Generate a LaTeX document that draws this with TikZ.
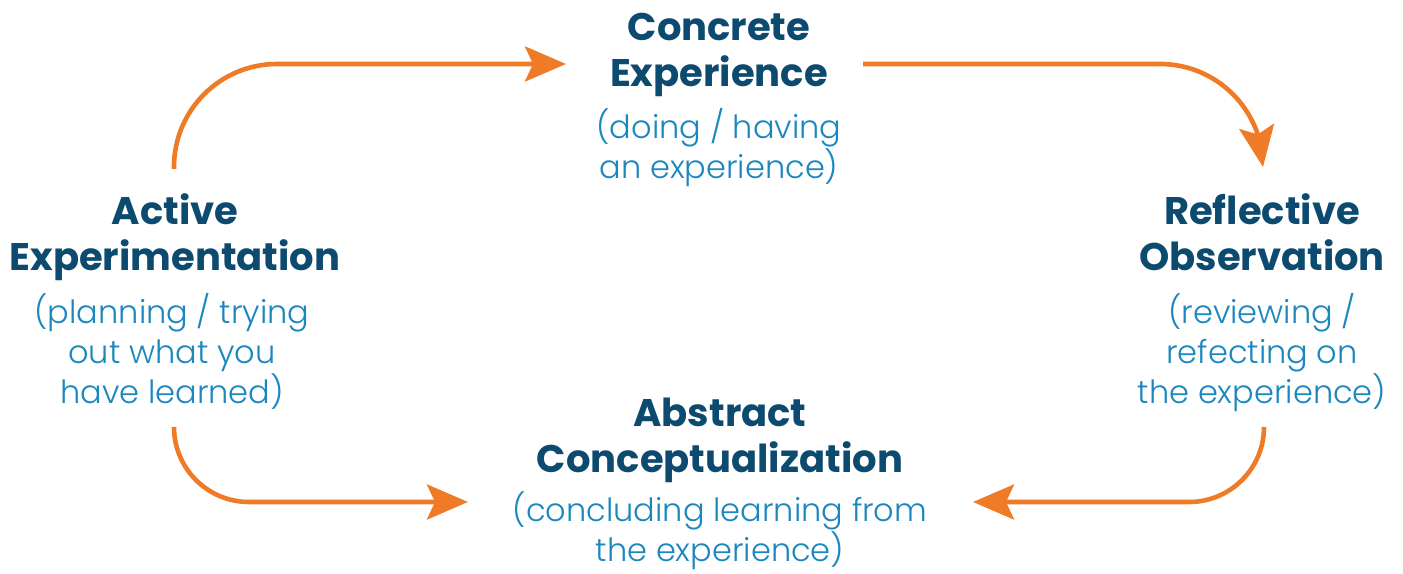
\documentclass[tikz,border=0pt]{standalone}
\usepackage{fontspec}
\setmainfont{Poppins}
\newfontfamily\lightfont{Poppins Light}
\usetikzlibrary{arrows.meta,bending}
\definecolor{titleblue}{HTML}{0D4A70}
\definecolor{subblue}{HTML}{1B87BE}
\definecolor{arroworange}{HTML}{F07B26}
\begin{document}
\begin{tikzpicture}[x=1pt,y=1pt,
  titletext/.style={inner sep=0pt, align=center, text=titleblue, font=\fontsize{38.5}{46}\selectfont\bfseries},
  subtext/.style={inner sep=0pt, align=center, text=subblue, font=\lightfont\fontsize{32}{40}\selectfont},
  cyclearrow/.style={draw=arroworange, line width=4.6pt, -{Stealth[length=41pt,width=35pt,inset=8pt,flex]}}]
\useasboundingbox (0,0) rectangle (1403,573);
% nodes
\node[titletext] (ce) at (719,518) {Concrete\\Experience};
\node[subtext] (ces) at (719,425) {(doing / having\\an experience)};
\node[titletext] (ae) at (175,336) {Active\\Experimentation};
\node[subtext] (aes) at (172,222) {(planning / trying\\out what you\\have learned)};
\node[titletext] (ro) at (1262,341) {Reflective\\Observation};
\node[subtext] (ros) at (1262,220) {(reviewing /\\refecting on\\the experience)};
\node[titletext] (ac) at (720,133) {Abstract\\Conceptualization};
\node[subtext] (acs) at (720,42) {(concluding learning from\\the experience)};
% connector ends
\coordinate (a1s) at (174,404);
\coordinate (a1e) at (566,509);
\coordinate (a2s) at (863,509);
\coordinate (a2e) at (1263,406);
\coordinate (a3s) at (1264,146);
\coordinate (a3e) at (973,71);
\coordinate (a4s) at (174,146);
\coordinate (a4e) at (468,71);
% arrows
\draw[cyclearrow] (a1s) -- ++(0,2) arc[start angle=180,end angle=90,radius=103] -- (a1e);
\draw[cyclearrow] (a2s) -- (1160,509) arc[start angle=90,end angle=0,radius=103];
\draw[cyclearrow] (a3s) arc[start angle=0,end angle=-90,radius=75] -- (a3e);
\draw[cyclearrow] (a4s) arc[start angle=180,end angle=270,radius=75] -- (a4e);
\end{tikzpicture}
\end{document}
